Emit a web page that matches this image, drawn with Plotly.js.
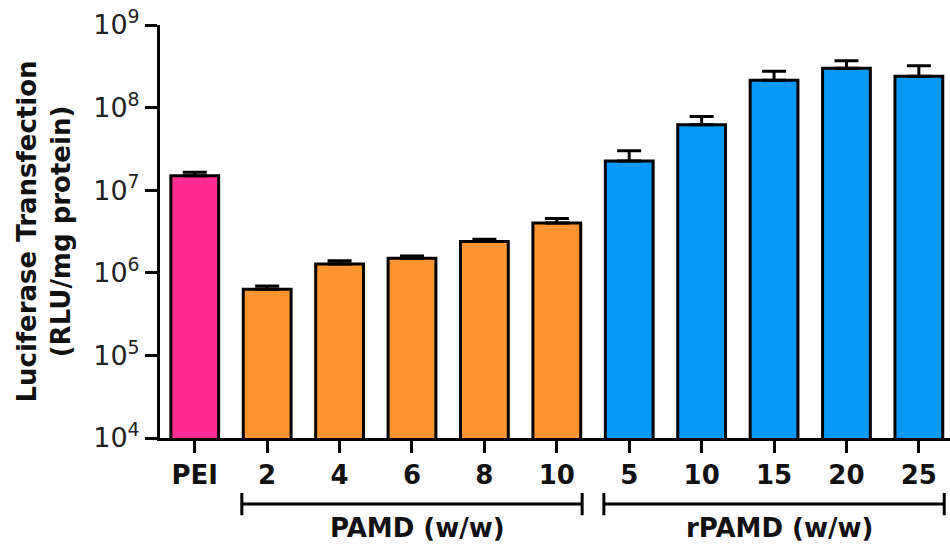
<!DOCTYPE html>
<html>
<head>
<meta charset="utf-8">
<script src="https://cdn.plot.ly/plotly-3.0.1.min.js"></script>
<style>html,body{margin:0;padding:0;background:#fff;}#chart{width:950px;height:551px;}</style>
</head>
<body>
<div id="chart"></div>
<script>
// Data
const categories = ["PEI", "2", "4", "6", "8", "10", "5", "10", "15", "20", "25"];
const groups = ["PEI", "PAMD", "PAMD", "PAMD", "PAMD", "PAMD", "rPAMD", "rPAMD", "rPAMD", "rPAMD", "rPAMD"];
const values = [1.5e7, 6.3e5, 1.28e6, 1.5e6, 2.4e6, 4.0e6, 2.25e7, 6.2e7, 2.15e8, 3.0e8, 2.4e8];
const errorsUp = [0.15e7, 0.6e5, 0.12e6, 0.1e6, 0.15e6, 0.55e6, 0.75e7, 1.6e7, 0.6e8, 0.7e8, 0.8e8];
const groupLabels = ["PAMD (w/w)", "rPAMD (w/w)"];
const groupKeys = ["PAMD", "rPAMD"];
const yTickVals = [1e4, 1e5, 1e6, 1e7, 1e8, 1e9];
const yTickText = ["10<sup>4</sup>", "10<sup>5</sup>", "10<sup>6</sup>", "10<sup>7</sup>", "10<sup>8</sup>", "10<sup>9</sup>"];

const FONT = "DejaVu Sans, Arial, sans-serif";
const colorMap = {PEI: "#FF2D8F", PAMD: "#FF9530", rPAMD: "#0799F5"};
const xIdx = categories.map((c, i) => i);

const trace = {
  type: "bar",
  x: xIdx,
  y: values,
  width: 0.66,
  marker: {color: groups.map(g => colorMap[g]), line: {color: "#000", width: 3}},
  error_y: {type: "data", symmetric: false, array: errorsUp, arrayminus: values.map(() => 0),
            color: "#000", thickness: 3, width: 12},
  hoverinfo: "skip"
};

const shapes = [];
const annotations = [];
groupKeys.forEach((g, k) => {
  const idx = groups.map((gg, i) => gg === g ? i : -1).filter(i => i >= 0);
  const x0 = idx[0] - 0.35, x1 = idx[idx.length - 1] + 0.35;
  shapes.push({type: "line", xref: "x", yref: "paper", x0: x0, x1: x1, y0: -0.16, y1: -0.16, line: {color: "#000", width: 3}});
  shapes.push({type: "line", xref: "x", yref: "paper", x0: x0, x1: x0, y0: -0.133, y1: -0.187, line: {color: "#000", width: 3}});
  shapes.push({type: "line", xref: "x", yref: "paper", x0: x1, x1: x1, y0: -0.133, y1: -0.187, line: {color: "#000", width: 3}});
  annotations.push({xref: "x", yref: "paper", x: (idx[0] + idx[idx.length - 1]) / 2 + 0.08, y: -0.218,
    text: "<b>" + groupLabels[k] + "</b>", showarrow: false, yanchor: "middle",
    font: {family: FONT, size: 26, color: "#111"}});
});

const layout = {
  width: 950, height: 551,
  margin: {l: 160, r: 0, t: 25, b: 113},
  paper_bgcolor: "#fff", plot_bgcolor: "#fff",
  showlegend: false,
  bargap: 0,
  xaxis: {
    range: [-0.48, 10.43],
    tickmode: "array", tickvals: xIdx, ticktext: categories.map(c => "<b>" + c + "</b>"),
    ticks: "outside", ticklen: 12, tickwidth: 3, tickcolor: "#000",
    showline: true, linewidth: 3, linecolor: "#000",
    showgrid: false, zeroline: false,
    tickfont: {family: FONT, size: 26, color: "#111"}
  },
  yaxis: {
    type: "log", range: [4, 9],
    tickmode: "array", tickvals: yTickVals, ticktext: yTickText,
    ticks: "outside", ticklen: 12, tickwidth: 3, tickcolor: "#000",
    showline: true, linewidth: 3, linecolor: "#000",
    showgrid: false, zeroline: false,
    tickfont: {family: FONT, size: 27, color: "#222"},
    title: {text: "<b>Luciferase Transfection<br>(RLU/mg protein)</b>", standoff: 16,
            font: {family: FONT, size: 26, color: "#111"}}
  },
  shapes: shapes,
  annotations: annotations
};

Plotly.newPlot("chart", [trace], layout, {displayModeBar: false, staticPlot: true});
</script>
</body>
</html>
